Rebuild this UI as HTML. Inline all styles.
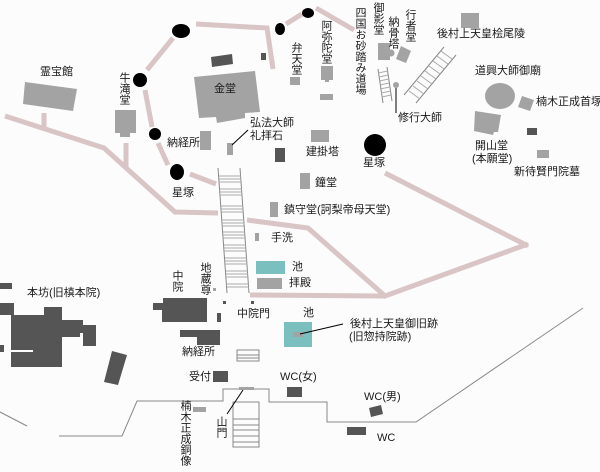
<!DOCTYPE html>
<html><head><meta charset="utf-8"><style>
html,body{margin:0;padding:0;background:#fcfcfc}
#w{position:relative;width:600px;height:472px;overflow:hidden;background:#fcfcfc}
svg{position:absolute;left:0;top:0}
.t{position:absolute;font-family:"Liberation Sans","Noto Sans CJK JP",sans-serif;font-size:11px;line-height:12px;color:#1a1a1a;white-space:nowrap}
.v{writing-mode:vertical-rl;line-height:11px;letter-spacing:0}
</style></head><body><div id="w">
<svg width="600" height="472" viewBox="0 0 600 472">
<g stroke="#d9c5c5" stroke-width="5" fill="none" stroke-linecap="butt">
<polyline points="196,24 267,28 273,69"/>
<line x1="286" y1="24" x2="302" y2="14"/>
<line x1="316" y1="8" x2="354" y2="30"/>
<line x1="173" y1="38" x2="147" y2="70"/>
<line x1="145" y1="90" x2="152" y2="127"/>
<line x1="158" y1="143" x2="168" y2="165"/>
<line x1="190" y1="174" x2="216" y2="184"/>
<polyline points="5,116 104,148 175,212 218,213"/>
<line x1="44" y1="113" x2="44" y2="128"/>
<line x1="126" y1="143" x2="126" y2="167"/>
<polyline points="247,220 308,228 385,296 528,244"/>
<line x1="385" y1="173" x2="528" y2="246"/>
<line x1="250" y1="295" x2="385" y2="296"/>
</g>
<g fill="#000">
<ellipse cx="181" cy="31" rx="9" ry="7"/>
<ellipse cx="280" cy="29" rx="5" ry="6"/>
<ellipse cx="308" cy="13" rx="6" ry="5"/>
<ellipse cx="140" cy="80" rx="7" ry="7"/>
<ellipse cx="155" cy="134" rx="6" ry="6"/>
<ellipse cx="177" cy="172" rx="7" ry="8"/>
<ellipse cx="375" cy="145" rx="11" ry="11"/>
</g>
<g stroke="#888" stroke-width="1" fill="none">
<line x1="218" y1="168" x2="227" y2="293"/><line x1="240" y1="168" x2="249" y2="293"/>
<line x1="378" y1="69" x2="383" y2="103"/><line x1="387" y1="67" x2="392" y2="101"/>
<line x1="444" y1="47" x2="404" y2="95"/><line x1="456" y1="55" x2="416" y2="103"/>
<rect x="237" y="350" width="22" height="11"/>
<line x1="237" y1="355" x2="259" y2="355"/><line x1="237" y1="358" x2="259" y2="358"/>
<rect x="233" y="402" width="26" height="45"/>
<line x1="233" y1="419" x2="259" y2="419"/><line x1="233" y1="425" x2="259" y2="425"/>
<line x1="233" y1="430" x2="259" y2="430"/><line x1="233" y1="436" x2="259" y2="436"/>
<line x1="233" y1="442" x2="259" y2="442"/>
</g>
<g stroke="#aaa" stroke-width="1">
<line x1="219" y1="176" x2="241" y2="176"/><line x1="219" y1="179" x2="241" y2="179"/><line x1="219" y1="182" x2="241" y2="182"/>
<line x1="220" y1="189" x2="242" y2="189"/><line x1="220" y1="192" x2="242" y2="192"/><line x1="220" y1="195" x2="242" y2="195"/>
<line x1="221" y1="206" x2="243" y2="206"/><line x1="221" y1="209" x2="243" y2="209"/><line x1="221" y1="212" x2="243" y2="212"/>
<line x1="222" y1="220" x2="244" y2="220"/><line x1="222" y1="223" x2="244" y2="223"/><line x1="222" y1="226" x2="244" y2="226"/>
<line x1="223" y1="232" x2="245" y2="232"/><line x1="223" y1="235" x2="245" y2="235"/><line x1="223" y1="238" x2="245" y2="238"/>
<line x1="224" y1="245" x2="246" y2="245"/><line x1="224" y1="248" x2="246" y2="248"/><line x1="224" y1="251" x2="246" y2="251"/>
<line x1="225" y1="258" x2="247" y2="258"/><line x1="225" y1="261" x2="247" y2="261"/><line x1="225" y1="264" x2="247" y2="264"/>
<line x1="226" y1="271" x2="248" y2="271"/><line x1="226" y1="274" x2="248" y2="274"/><line x1="226" y1="277" x2="248" y2="277"/>
<line x1="227" y1="284" x2="249" y2="284"/><line x1="227" y1="287" x2="249" y2="287"/>
</g>
<g stroke="#aaa" stroke-width="1">
<line x1="378" y1="73" x2="388" y2="71"/><line x1="379" y1="77" x2="388" y2="75"/><line x1="379" y1="81" x2="389" y2="79"/>
<line x1="380" y1="85" x2="389" y2="83"/><line x1="380" y1="89" x2="390" y2="87"/><line x1="381" y1="93" x2="391" y2="91"/>
<line x1="382" y1="97" x2="391" y2="95"/>
</g>
<g stroke="#aaa" stroke-width="1">
<line x1="441" y1="51" x2="452" y2="59"/><line x1="437" y1="56" x2="448" y2="64"/><line x1="433" y1="61" x2="444" y2="69"/>
<line x1="429" y1="66" x2="440" y2="74"/><line x1="425" y1="71" x2="436" y2="79"/><line x1="421" y1="76" x2="432" y2="84"/>
<line x1="417" y1="81" x2="428" y2="89"/><line x1="413" y1="86" x2="424" y2="94"/><line x1="409" y1="91" x2="420" y2="99"/>
</g>
<polyline points="0,412 27,426" stroke="#888" fill="none"/>
<polyline points="59,436 122,436 137,401 223,401 223,389 269,389 269,402 327,402 327,422 416,422 583,308" stroke="#888" fill="none"/>
<g fill="#a3a3a3">
<polygon points="25,82 77,89 73,111 23,104"/>
<polygon points="115,110 136,110 136,133 130,133 130,137 120,137 120,133 115,133"/>
<polygon points="194,77 255,71 260,112 245,113 245,118 217,123 216,117 199,118"/>
<rect x="290" y="77" width="10" height="8"/>
<polygon points="321,66 333,66 333,80 329,80 329,82 325,82 325,80 321,80"/>
<rect x="320" y="94" width="13" height="6"/>
<rect x="378" y="43" width="12" height="17"/>
<circle cx="391" cy="53" r="3.5"/>
<polygon points="401,46 411,51 406,63 396,59"/>
<rect x="461" y="13" width="18" height="15"/>
<circle cx="396" cy="85" r="3"/>
<ellipse cx="500" cy="96" rx="15" ry="13"/>
<polygon points="522,96 534,100 530,111 518,107"/>
<polygon points="475,111 501,115 498,132 494,132 493,135 474,131"/>
<rect x="537" y="150" width="12" height="8"/>
<rect x="311" y="130" width="18" height="12"/>
<rect x="300" y="173" width="10" height="16"/>
<rect x="270" y="202" width="8" height="15"/>
<rect x="255" y="233" width="4" height="8"/>
<rect x="257" y="278" width="25" height="11"/>
<rect x="200" y="131" width="11" height="19"/>
<rect x="227" y="143" width="6" height="12"/>
<rect x="213" y="288" width="3" height="3"/>
<rect x="193" y="407" width="13" height="5"/>
<rect x="239" y="387" width="15" height="3"/>
</g>
<rect x="256" y="261" width="29" height="13" fill="#7cbfbf"/>
<rect x="284" y="322" width="28" height="25" fill="#7cbfbf"/>
<rect x="293" y="332" width="10" height="5" fill="#a3a3a3"/>
<g fill="#555">
<polygon points="211,57 232,54 233,64 212,67"/>
<rect x="261" y="53" width="5" height="7"/>
<rect x="527" y="128" width="10" height="7"/>
<rect x="275" y="148" width="10" height="14"/>
<polygon points="163,298 207,298 207,322 162,322 162,310 153,310 153,303 163,303"/>
<rect x="223" y="301" width="3" height="3"/><rect x="251" y="301" width="3" height="3"/>
<rect x="217" y="313" width="4" height="9"/>
<polygon points="180,330 220,330 220,345 197,345 197,337 180,337"/>
<rect x="213" y="371" width="15" height="11"/>
<rect x="287" y="387" width="15" height="10"/>
<polygon points="369,408 381,405 383,414 371,417"/>
<rect x="347" y="427" width="19" height="8"/>
<rect x="0" y="283" width="12" height="6"/>
<rect x="0" y="303" width="14" height="12"/>
<rect x="11" y="315" width="33" height="35"/>
<rect x="44" y="307" width="18" height="45"/>
<rect x="62" y="320" width="21" height="13"/>
<rect x="62" y="333" width="18" height="4"/>
<rect x="83" y="325" width="13" height="21"/>
<rect x="11" y="352" width="51" height="15"/>
<rect x="33" y="348" width="29" height="6"/>
<rect x="0" y="345" width="4" height="7"/>
<polygon points="112,351 127,355 118,385 104,382"/>
</g>
<g stroke="#000" stroke-width="1">
<line x1="232" y1="145" x2="248" y2="130"/>
<line x1="396" y1="88" x2="396" y2="113"/>
<line x1="300" y1="334" x2="343" y2="324"/>
<line x1="227" y1="414" x2="243" y2="390"/>
</g>
</svg>
<div class="t" style="left:40px;top:66px">霊宝館</div>
<div class="t v" style="left:118px;top:72px">牛滝堂</div>
<div class="t" style="left:214px;top:83px">金堂</div>
<div class="t v" style="left:290px;top:42px">弁天堂</div>
<div class="t v" style="left:320px;top:20px">阿弥陀堂</div>
<div class="t v" style="left:354px;top:7px">四国お砂踏み道場</div>
<div class="t v" style="left:372px;top:2px">御影堂</div>
<div class="t v" style="left:387px;top:16px">納骨塔</div>
<div class="t v" style="left:404px;top:9px">行者堂</div>
<div class="t" style="left:437px;top:28px">後村上天皇桧尾陵</div>
<div class="t" style="left:475px;top:65px">道興大師御廟</div>
<div class="t" style="left:536px;top:96px">楠木正成首塚</div>
<div class="t" style="left:398px;top:112px">修行大師</div>
<div class="t" style="left:475px;top:140px">開山堂</div>
<div class="t" style="left:472px;top:153px">(本願堂)</div>
<div class="t" style="left:514px;top:166px">新待賢門院墓</div>
<div class="t" style="left:363px;top:157px">星塚</div>
<div class="t" style="left:306px;top:146px">建掛塔</div>
<div class="t" style="left:315px;top:177px">鐘堂</div>
<div class="t" style="left:284px;top:204px">鎮守堂(訶梨帝母天堂)</div>
<div class="t" style="left:271px;top:232px">手洗</div>
<div class="t" style="left:292px;top:261px">池</div>
<div class="t" style="left:289px;top:277px">拝殿</div>
<div class="t" style="left:167px;top:137px">納経所</div>
<div class="t" style="left:250px;top:117px">弘法大師</div>
<div class="t" style="left:250px;top:130px">礼拝石</div>
<div class="t" style="left:172px;top:187px">星塚</div>
<div class="t" style="left:27px;top:287px">本坊(旧槙本院)</div>
<div class="t v" style="left:171px;top:270px">中院</div>
<div class="t v" style="left:199px;top:262px">地蔵尊</div>
<div class="t" style="left:237px;top:308px">中院門</div>
<div class="t" style="left:303px;top:307px">池</div>
<div class="t" style="left:350px;top:318px">後村上天皇御旧跡</div>
<div class="t" style="left:349px;top:331px">(旧惣持院跡)</div>
<div class="t" style="left:182px;top:346px">納経所</div>
<div class="t" style="left:189px;top:371px">受付</div>
<div class="t" style="left:280px;top:371px">WC(女)</div>
<div class="t" style="left:364px;top:391px">WC(男)</div>
<div class="t" style="left:377px;top:432px">WC</div>
<div class="t v" style="left:215px;top:416px">山門</div>
<div class="t v" style="left:179px;top:400px">楠木正成銅像</div>
</div></body></html>
